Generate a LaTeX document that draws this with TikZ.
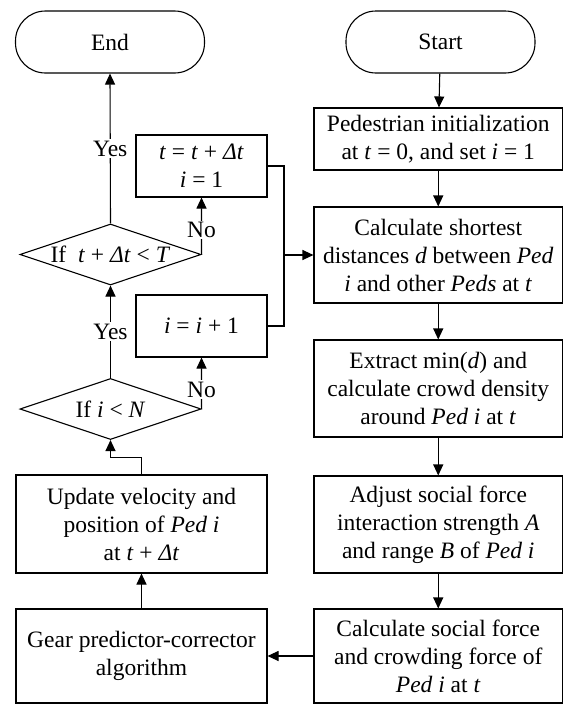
\documentclass[tikz,border=0pt]{standalone}
\usepackage{fontspec}
\setmainfont{Liberation Serif}
\usetikzlibrary{shapes.geometric,arrows.meta}
\newcommand{\mi}[1]{\textit{#1}}
\begin{document}
\begin{tikzpicture}[x=1pt,y=-1pt,
	every node/.style={font=\fontsize{23.5}{28}\selectfont, align=center, inner sep=0pt},
	line/.style={line width=1.1pt},
	arr/.style={line, -{Triangle[length=11pt,width=10pt]}},
	term/.style={draw, line, rounded corners=30pt, minimum width=189pt, minimum height=62pt},
	rbox/.style={draw, line, minimum width=248.5pt},
	lbox/.style={draw, line, minimum width=251pt},
	sbox/.style={draw, line, minimum width=131pt, minimum height=62pt},
	decide/.style={draw, line, diamond, aspect=3, minimum width=181pt, minimum height=61pt},
	tag/.style={fill=white, inner sep=1.5pt}]
	\useasboundingbox (0,0) rectangle (564,705);
	% right column
	\node [term] (start) at (440.5,42) {Start};
	\node [rbox, minimum height=62pt] (init) at (438.25,139) {Pedestrian initialization\\at \mi{t} = 0, and set \mi{i} = 1};
	\node [rbox, minimum height=96pt] (dist) at (438.25,255) {Calculate shortest\\distances \mi{d} between \mi{Ped}\\\mi{i} and other \mi{Peds} at \mi{t}};
	\node [rbox, minimum height=97pt] (dens) at (438.25,388.5) {Extract min(\mi{d}) and\\calculate crowd density\\around \mi{Ped i} at \mi{t}};
	\node [rbox, minimum height=97pt] (adjust) at (438.25,524.5) {Adjust social force\\interaction strength \mi{A}\\and range \mi{B} of \mi{Ped i}};
	\node [rbox, minimum height=94pt] (force) at (438.25,656) {Calculate social force\\and crowding force of\\\mi{Ped i} at \mi{t}};
	% left column
	\node [term] (end) at (110,42) {End};
	\node [lbox, minimum height=94pt] (gear) at (141.5,656) {Gear predictor-corrector\\algorithm};
	\node [lbox, minimum height=98pt] (update) at (141.5,524) {Update velocity and\\position of \mi{Ped i}\\at \mi{t} + \mi{Δt}};
	\node [decide] (ifN) at (110.5,409) {If \mi{i} < \mi{N}};
	\node [decide] (ifT) at (110.5,254.5) {If \ \mi{t} + \mi{Δt} < \mi{T}};
	\node [sbox] (next) at (201.5,326) {\mi{i} = \mi{i} + 1};
	\node [sbox] (step) at (201.5,166) {\mi{t} = \mi{t} + \mi{Δt}\\\mi{i} = 1};
	\coordinate (join) at (284,255);
	% connectors
	\draw [arr] (start) -- (init);
	\draw [arr] (init) -- (dist);
	\draw [arr] (dist) -- (dens);
	\draw [arr] (dens) -- (adjust);
	\draw [arr] (adjust) -- (force);
	\draw [arr] (force.west) -- (gear.east);
	\draw [arr] (gear) -- (update);
	\draw [arr] (update.north) -- ++(0,-17) -| (ifN.south);
	\draw [arr] (ifN.north) -- node [tag] {Yes} (ifT.south);
	\draw [arr] (ifT.north) -- node [tag] {Yes} (end.south);
	\draw [arr] (ifN.east) -- node [tag, pos=0.38] {No} (next.south);
	\draw [arr] (ifT.east) -- node [tag, pos=0.43] {No} (step.south);
	\draw [line] (step.east) -| (join);
	\draw [line] (next.east) -| (join);
	\draw [arr] (join) -- (dist.west);
\end{tikzpicture}
\end{document}
